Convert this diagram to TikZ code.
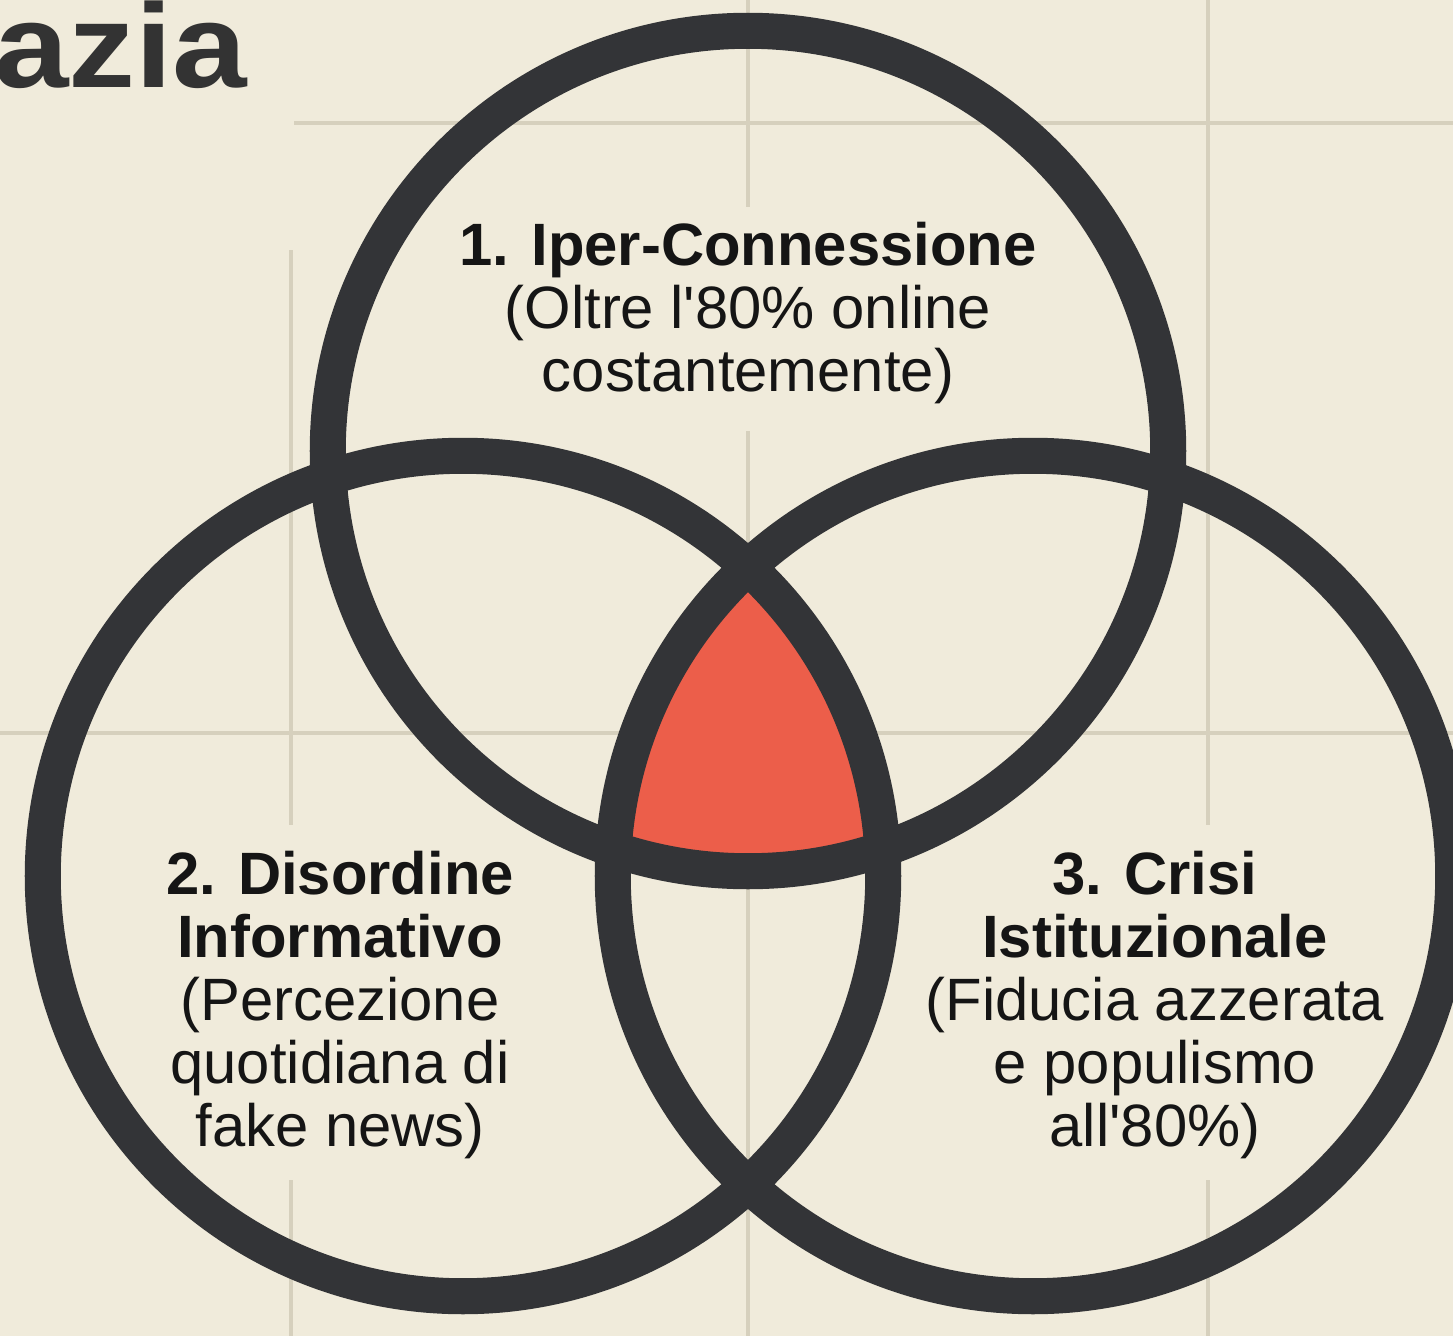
\documentclass[tikz,border=0pt]{standalone}
\usepackage{fontspec}
\setmainfont{Liberation Sans}
\definecolor{bgc}{HTML}{F0EBDB}
\definecolor{gridc}{HTML}{D6D0BD}
\definecolor{ringc}{HTML}{333437}
\definecolor{redc}{HTML}{EC5E4A}
\definecolor{txtc}{HTML}{151515}
\definecolor{titc}{HTML}{333333}
\tikzset{
  gridline/.style={draw=gridc, line width=0.9pt},
  ring/.style={draw=ringc, line width=0.36cm},
  lbl/.style={align=center, inner sep=0pt, text=txtc, font=\fontsize{17pt}{17.9pt}\selectfont},
  ttl/.style={inner sep=0pt, text=titc, font=\fontsize{34pt}{34pt}\selectfont\bfseries}
}
\begin{document}
\begin{tikzpicture}[x=0.01cm, y=-0.01cm]
\useasboundingbox (0,0) rectangle (1453,1336);
\clip (0,0) rectangle (1453,1336);
\fill[bgc] (0,0) rectangle (1453,1336);
% grid
\draw[gridline] (294,123) -- (1453,123);
\draw[gridline] (0,733) -- (1453,733);
\draw[gridline] (291,250) -- (291,825) (291,1180) -- (291,1336);
\draw[gridline] (748,0) -- (748,207) (748,431) -- (748,1336);
\draw[gridline] (1208,0) -- (1208,825) (1208,1180) -- (1208,1336);
% centres
\coordinate (T) at (748,451);
\coordinate (L) at (463,876);
\coordinate (R) at (1033,876);
% red intersection
\begin{scope}
  \clip (T) circle [radius=4.2cm];
  \clip (L) circle [radius=4.2cm];
  \fill[redc] (R) circle [radius=4.2cm];
\end{scope}
% rings
\draw[ring] (T) circle [radius=4.2cm];
\draw[ring] (L) circle [radius=4.2cm];
\draw[ring] (R) circle [radius=4.2cm];
% title
\node[ttl, anchor=base east] (title) at (248,87) {\scalebox{1.12}[1]{azia}};
% labels
\node[lbl] (t1) at (748,313) {\textbf{1. Iper-Connessione}\\(Oltre l\textquotesingle 80\% online\\costantemente)};
\node[lbl] (t2) at (340,1005) {\textbf{2. Disordine}\\\textbf{Informativo}\\(Percezione\\quotidiana di\\fake news)};
\node[lbl] (t3) at (1155,1005) {\textbf{3. Crisi}\\\textbf{Istituzionale}\\(Fiducia azzerata\\e populismo\\all\textquotesingle 80\%)};
\end{tikzpicture}
\end{document}
